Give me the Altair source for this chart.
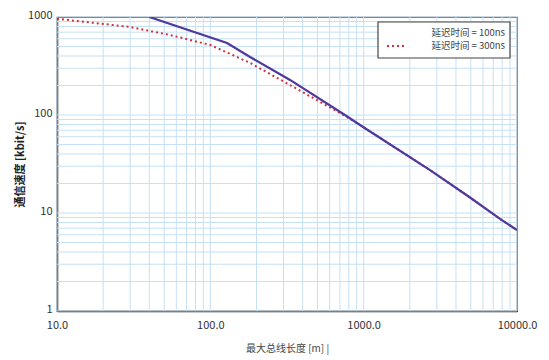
import altair as alt
import pandas as pd

# 延迟时间 = 100ns
len_100 = [40, 128.5, 181.6, 331, 755, 991, 2710, 4940, 7750, 10000]
spd_100 = [1000, 543, 391, 228, 100, 75.5, 27.4, 14.4, 8.7, 6.7]
# 延迟时间 = 300ns
len_300 = [10, 20, 29.9, 54.6, 100, 181.6, 331, 778, 991, 2710, 4940, 7750, 10000]
spd_300 = [960, 850, 791, 655, 518, 340, 202, 95.5, 75.5, 27.4, 14.4, 8.7, 6.7]

x_ticks = [10, 100, 1000, 10000]
y_ticks = [1, 10, 100, 1000]
x_grid = [m * d for d in [10, 100, 1000] for m in range(1, 10)] + [10000]
y_grid = [m * d for d in [1, 10, 100] for m in range(1, 10)] + [1000]

legend_labels = ["延迟时间 = 100ns", "延迟时间 = 300ns"]

df100 = pd.DataFrame({"L": len_100, "v": spd_100})
df300 = pd.DataFrame({"L": len_300, "v": spd_300})
dgx = pd.DataFrame({"g": x_grid})
dgy = pd.DataFrame({"g": y_grid})

xs = alt.Scale(type="log", domain=[10, 10000], nice=False)
ys = alt.Scale(type="log", domain=[1, 1000], nice=False)

FONT = "Noto Sans CJK SC"
GRID = "#c6e0f4"

xaxis = alt.Axis(values=x_ticks, format=".1f", grid=False, ticks=False,
                 labelPadding=8, labelFontSize=11, labelColor="#333", labelFlush=False,
                 title="最大总线长度 [m]  |", titleFontSize=10, titleFontWeight="normal",
                 titleColor="#444", titlePadding=13, domainColor="#222", domainWidth=1.5,
                 labelFont=FONT, titleFont=FONT)
yaxis = alt.Axis(values=y_ticks, format="d", grid=False, ticks=False,
                 labelPadding=5, labelFontSize=11, labelColor="#333", labelFlush=False,
                 labelOffset=-2,
                 title="通信速度 [kbit/s]", titleFontSize=11, titleFontWeight="bold",
                 titleColor="#222", titleX=-37, titleY=147, titleAngle=270,
                 titleAlign="center", titleBaseline="middle",
                 domainColor="#222", domainWidth=1.5,
                 labelFont=FONT, titleFont=FONT)

gx = alt.Chart(dgx).mark_rule(color=GRID, strokeWidth=1).encode(
    x=alt.X("g:Q", scale=xs, axis=xaxis))
gy = alt.Chart(dgy).mark_rule(color=GRID, strokeWidth=1).encode(
    y=alt.Y("g:Q", scale=ys, axis=yaxis))

l300 = alt.Chart(df300).mark_line(color="#d3303f", strokeWidth=2, strokeDash=[2, 3],
                                  clip=True).encode(
    x=alt.X("L:Q", scale=xs), y=alt.Y("v:Q", scale=ys))
l100 = alt.Chart(df100).mark_line(color="#4e3a9c", strokeWidth=2.2, clip=True).encode(
    x=alt.X("L:Q", scale=xs), y=alt.Y("v:Q", scale=ys))

lbox = alt.Chart(pd.DataFrame({"a": [0]})).mark_rect(
    fill="white", stroke="#444", strokeWidth=1.2).encode(
    x=alt.value(321), x2=alt.value(453), y=alt.value(5), y2=alt.value(41))
lswatch = alt.Chart(pd.DataFrame({"a": [0]})).mark_rule(
    color="#d3303f", strokeWidth=2, strokeDash=[2, 3]).encode(
    x=alt.value(330), x2=alt.value(349), y=alt.value(29))
ltext = alt.Chart(pd.DataFrame({"t": legend_labels, "yy": [16, 29]})).mark_text(
    align="right", baseline="middle", fontSize=9.5, font=FONT, color="#444").encode(
    text="t:N", x=alt.value(448), y=alt.Y("yy:Q", scale=None))

chart = alt.layer(gx, gy, l300, l100, lbox, lswatch, ltext).properties(
    width=460, height=294,
    autosize=alt.AutoSizeParams(type="none"),
    padding={"left": 57, "top": 17, "right": 32, "bottom": 49},
    background="white",
).configure_view(stroke="#333", strokeWidth=1.2)

chart.save("out.html", embed_options={"renderer": "svg", "actions": False})
